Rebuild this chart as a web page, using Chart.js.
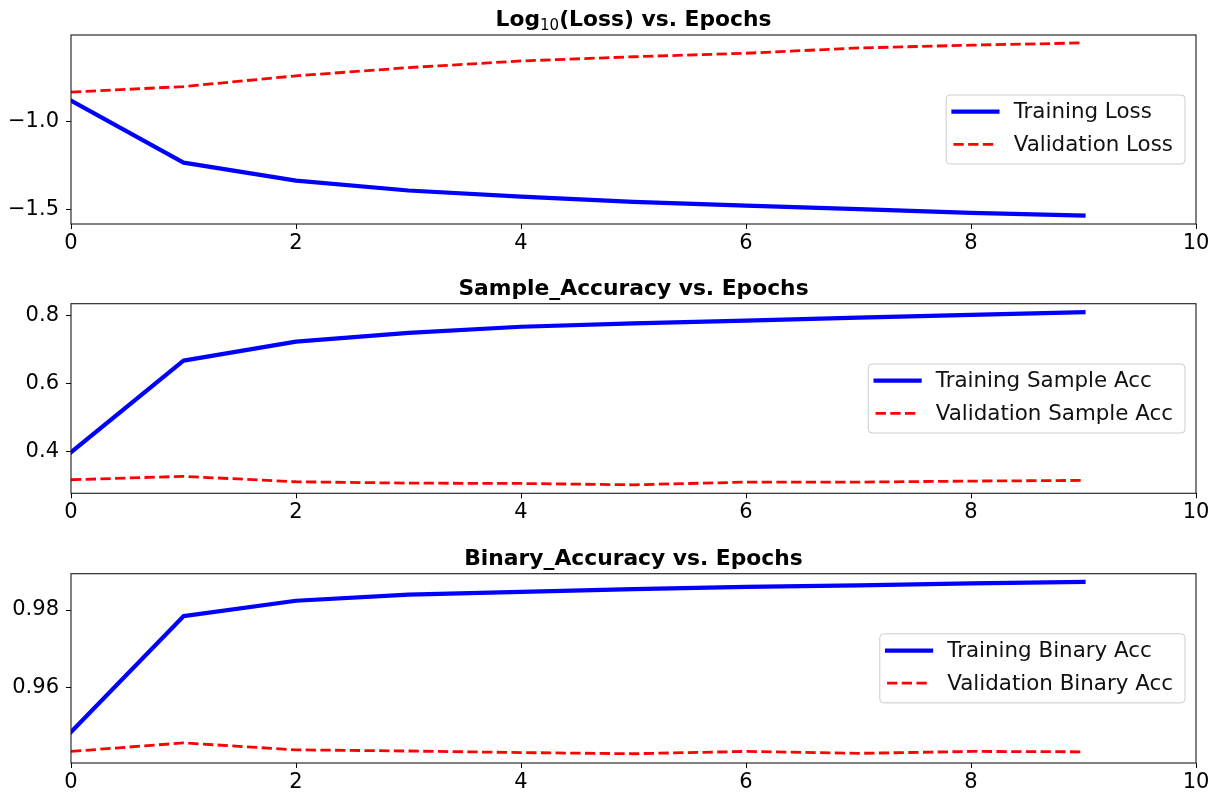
<!DOCTYPE html>
<html>
<head>
<meta charset="utf-8">
<script src="https://cdn.jsdelivr.net/npm/chart.js@4.4.1/dist/chart.umd.min.js"></script>
<style>
  html, body { margin: 0; padding: 0; background: #fff; }
  #wrap { position: relative; width: 1221px; height: 795px; overflow: hidden; background: #fff; }
  #wrap canvas { position: absolute; left: 0; }
</style>
</head>
<body>
<div id="wrap">
  <canvas id="lossChart"></canvas>
  <canvas id="sampleChart"></canvas>
  <canvas id="binaryChart"></canvas>
</div>
<script>
// Training history per epoch
const epochs = [0, 1, 2, 3, 4, 5, 6, 7, 8, 9];

const trainLogLoss = [-0.880, -1.234, -1.337, -1.393, -1.428, -1.458, -1.479, -1.499, -1.520, -1.536];
const valLogLoss   = [-0.832, -0.800, -0.739, -0.692, -0.654, -0.630, -0.610, -0.580, -0.564, -0.551];

const trainSampleAcc = [0.398, 0.668, 0.724, 0.750, 0.768, 0.778, 0.786, 0.795, 0.803, 0.811];
const valSampleAcc   = [0.317, 0.327, 0.311, 0.307, 0.306, 0.302, 0.310, 0.310, 0.313, 0.315];

const trainBinaryAcc = [0.9484, 0.9784, 0.9824, 0.9840, 0.9847, 0.9854, 0.9860, 0.9864, 0.9869, 0.9873];
const valBinaryAcc   = [0.9434, 0.9456, 0.9438, 0.9435, 0.9431, 0.9428, 0.9434, 0.9429, 0.9434, 0.9433];

// Axis ticks
const xTicks = [0, 2, 4, 6, 8, 10];
const lossTicks = [-1.5, -1.0];
const sampleTicks = [0.4, 0.6, 0.8];
const binaryTicks = [0.96, 0.98];

// Series labels
const lossLabels = ['Training Loss', 'Validation Loss'];
const sampleLabels = ['Training Sample Acc', 'Validation Sample Acc'];
const binaryLabels = ['Training Binary Acc', 'Validation Binary Acc'];

const FONT = 'DejaVu Sans';
Chart.defaults.font.family = FONT;
Chart.defaults.color = '#000';

const toPoints = (ys) => epochs.map((e, i) => ({ x: e, y: ys[i] }));
const fmtTick = (v, dec) => v.toFixed(dec).replace('-', '\u2212');

// Title drawn above the plot area, supporting a subscript run
const titlePlugin = {
  id: 'panelTitle',
  afterDraw(chart, args, opts) {
    const { ctx, chartArea } = chart;
    const runs = opts.runs || [];
    ctx.save();
    let total = 0;
    runs.forEach(r => { ctx.font = r.font; r.w = ctx.measureText(r.text).width; total += r.w; });
    let x = (chartArea.left + chartArea.right) / 2 - total / 2;
    const base = chartArea.top - 9;
    ctx.fillStyle = '#000';
    ctx.textBaseline = 'alphabetic';
    ctx.textAlign = 'left';
    runs.forEach(r => {
      ctx.font = r.font;
      ctx.fillText(r.text, x, base + (r.dy || 0));
      x += r.w;
    });
    ctx.restore();
  }
};

// Axes frame on all four sides
const framePlugin = {
  id: 'axesFrame',
  afterDatasetsDraw(chart) {
    const { ctx, chartArea: a } = chart;
    ctx.save();
    ctx.strokeStyle = '#1a1a1a';
    ctx.lineWidth = 1.1;
    ctx.strokeRect(a.left, a.top, a.right - a.left, a.bottom - a.top);
    ctx.restore();
  }
};

// Boxed legend at the centre right of the plot area
const legendPlugin = {
  id: 'boxLegend',
  afterDraw(chart) {
    const { ctx, chartArea: a } = chart;
    const sets = chart.data.datasets;
    ctx.save();
    ctx.font = '21.4px "' + FONT + '"';
    const textW = Math.max(...sets.map(d => ctx.measureText(d.label).width));
    const boxW = 67.5 + textW + 12;
    const boxH = 69;
    const right = a.right - 11;
    const left = right - boxW;
    const top = (a.top + a.bottom) / 2 - boxH / 2;
    const r = 4;
    ctx.beginPath();
    ctx.moveTo(left + r, top);
    ctx.lineTo(left + boxW - r, top);
    ctx.arcTo(left + boxW, top, left + boxW, top + r, r);
    ctx.lineTo(left + boxW, top + boxH - r);
    ctx.arcTo(left + boxW, top + boxH, left + boxW - r, top + boxH, r);
    ctx.lineTo(left + r, top + boxH);
    ctx.arcTo(left, top + boxH, left, top + boxH - r, r);
    ctx.lineTo(left, top + r);
    ctx.arcTo(left, top, left + r, top, r);
    ctx.closePath();
    ctx.fillStyle = 'rgba(255,255,255,0.8)';
    ctx.fill();
    ctx.strokeStyle = '#cccccc';
    ctx.lineWidth = 1;
    ctx.stroke();

    sets.forEach((d, i) => {
      const y = top + 16.7 + i * 32.6;
      ctx.beginPath();
      ctx.setLineDash(d.borderDash || []);
      ctx.lineCap = d.borderCapStyle || 'butt';
      ctx.strokeStyle = d.borderColor;
      ctx.lineWidth = d.borderWidth;
      ctx.moveTo(left + 7.3, y);
      ctx.lineTo(left + 51.3, y);
      ctx.stroke();
      ctx.setLineDash([]);
      ctx.fillStyle = '#111';
      ctx.textBaseline = 'middle';
      ctx.textAlign = 'left';
      ctx.fillText(d.label, left + 67.5, y + 1);
    });
    ctx.restore();
  }
};

function makePanel(id, p) {
  const cv = document.getElementById(id);
  cv.width = 1221;
  cv.height = p.height;
  cv.style.width = '1221px';
  cv.style.height = p.height + 'px';
  cv.style.top = p.top + 'px';

  const tickFont = { family: FONT, size: 21 };
  return new Chart(cv, {
    type: 'line',
    data: {
      datasets: [
        {
          label: p.labels[0],
          data: toPoints(p.train),
          borderColor: '#0000ff',
          borderWidth: 4.2,
          borderCapStyle: 'square',
          borderJoinStyle: 'round',
          pointRadius: 0,
          tension: 0,
          fill: false
        },
        {
          label: p.labels[1],
          data: toPoints(p.val),
          borderColor: '#ff0000',
          borderWidth: 2.8,
          borderDash: [10.3, 4.4],
          borderCapStyle: 'butt',
          borderJoinStyle: 'round',
          pointRadius: 0,
          tension: 0,
          fill: false
        }
      ]
    },
    options: {
      responsive: false,
      animation: false,
      devicePixelRatio: 1,
      layout: { padding: { top: p.areaTop, left: 0, right: 25, bottom: 0 } },
      plugins: {
        legend: { display: false },
        tooltip: { enabled: false },
        title: { display: false },
        panelTitle: { runs: p.title }
      },
      scales: {
        x: {
          type: 'linear',
          min: 0,
          max: 10,
          afterBuildTicks: s => { s.ticks = xTicks.map(v => ({ value: v })); },
          afterFit: s => { s.height = p.height - p.areaBottom; },
          ticks: { font: tickFont, color: '#000', padding: 2, maxRotation: 0, callback: v => String(v) },
          grid: { display: true, drawOnChartArea: false, drawTicks: true, tickLength: 5, color: '#000', lineWidth: 1 },
          border: { display: false }
        },
        y: {
          type: 'linear',
          min: p.yMin,
          max: p.yMax,
          afterBuildTicks: s => { s.ticks = p.yTicks.map(v => ({ value: v })); },
          afterFit: s => { s.width = 71; },
          ticks: { font: tickFont, color: '#000', padding: 7, callback: v => fmtTick(v, p.dec) },
          grid: { display: true, drawOnChartArea: false, drawTicks: true, tickLength: 5, color: '#000', lineWidth: 1 },
          border: { display: false }
        }
      }
    },
    plugins: [framePlugin, titlePlugin, legendPlugin]
  });
}

const boldTitle = 'bold 21.8px "' + FONT + '"';

makePanel('lossChart', {
  top: 0, height: 262, areaTop: 35, areaBottom: 224,
  train: trainLogLoss, val: valLogLoss, labels: lossLabels,
  yMin: -1.584, yMax: -0.506, yTicks: lossTicks, dec: 1,
  title: [
    { text: 'Log', font: boldTitle },
    { text: '10', font: '15px "' + FONT + '"', dy: 3.5 },
    { text: '(Loss) vs. Epochs', font: boldTitle }
  ]
});

makePanel('sampleChart', {
  top: 268, height: 262, areaTop: 35.7, areaBottom: 225.3,
  train: trainSampleAcc, val: valSampleAcc, labels: sampleLabels,
  yMin: 0.277, yMax: 0.836, yTicks: sampleTicks, dec: 1,
  title: [{ text: 'Sample_Accuracy vs. Epochs', font: boldTitle }]
});

makePanel('binaryChart', {
  top: 538, height: 257, areaTop: 35.7, areaBottom: 225,
  train: trainBinaryAcc, val: valBinaryAcc, labels: binaryLabels,
  yMin: 0.9404, yMax: 0.9894, yTicks: binaryTicks, dec: 2,
  title: [{ text: 'Binary_Accuracy vs. Epochs', font: boldTitle }]
});
</script>
</body>
</html>
